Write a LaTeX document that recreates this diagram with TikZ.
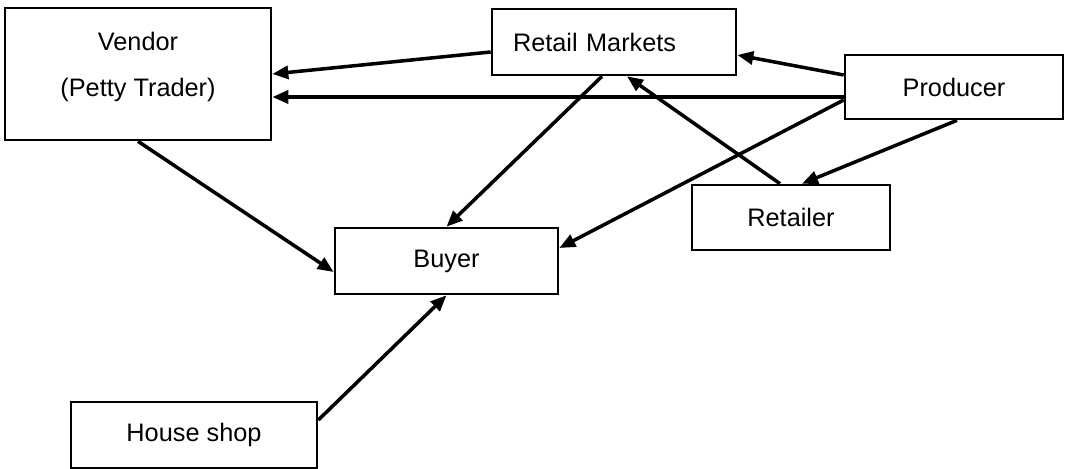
\documentclass[tikz,border=0pt]{standalone}
\usepackage{fontspec}
\setmainfont{Liberation Sans}
\usepackage{tikz}
\usetikzlibrary{arrows.meta, positioning, calc}

\begin{document}
\begin{tikzpicture}[
    chainbox/.style={draw=black, line width=1.5pt, fill=white, font=\fontsize{14.4}{25.6}\selectfont},
    flow/.style={line width=2pt, -{Triangle[length=0.32cm, width=0.26cm]}}
  ]
                \useasboundingbox (0,0) rectangle (21.32,-9.38);
                \node[chainbox, minimum width=5.32cm, minimum height=2.64cm, align=center] (vendor) at (2.76,-1.48) {\raisebox{0.14cm}[\height][\depth]{\shortstack{Vendor\\[0.44cm](Petty Trader)}}};
                \node[chainbox, text width=4.04cm, inner xsep=0.42cm, minimum height=1.32cm, align=left] (market) at (12.28,-0.84) {Retail Markets};
                \node[chainbox, minimum width=4.36cm, minimum height=1.28cm] (producer) at (19.08,-1.74) {Producer};
                \node[chainbox, minimum width=3.96cm, minimum height=1.3cm] (retailer) at (15.82,-4.35) {Retailer};
                \node[chainbox, minimum width=4.46cm, minimum height=1.32cm] (buyer) at (8.93,-5.22) {Buyer};
                \node[chainbox, minimum width=4.92cm, minimum height=1.32cm] (house) at (3.88,-8.70) {House shop};

                \draw[flow] ([yshift=-0.2cm]market.west) -- (vendor.east);
                \draw[flow] ([yshift=-0.2cm]producer.west) -- ([yshift=-0.46cm]vendor.east);
                \draw[flow] ([yshift=0.24cm]producer.west) -- ([yshift=-0.26cm]market.east);
                \draw[flow] ([yshift=-0.26cm]producer.west) -- ([yshift=0.26cm]buyer.east);
                \draw[flow] ([xshift=0.06cm]producer.south) -- ([xshift=0.22cm]retailer.north);
                \draw[flow] ([xshift=-0.22cm]retailer.north) -- ([xshift=0.26cm]market.south);
                \draw[flow] ([xshift=-0.24cm]market.south) -- (buyer.north);
                \draw[flow] (vendor.south) -- ([yshift=-0.22cm]buyer.west);
                \draw[flow] ([yshift=0.3cm]house.east) -- (buyer.south);
            \end{tikzpicture}
\end{document}
